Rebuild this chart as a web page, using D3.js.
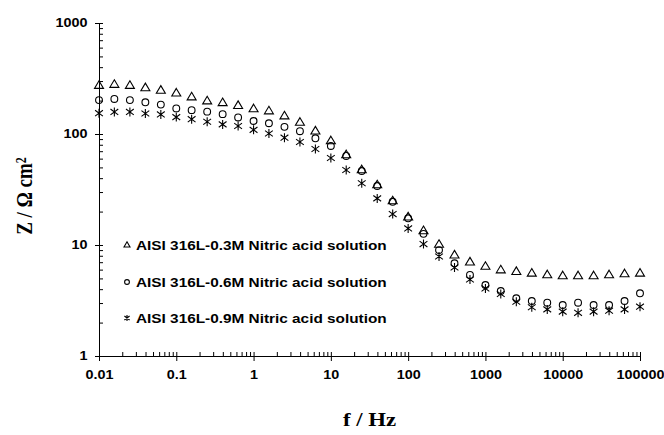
<!DOCTYPE html>
<html lang="en">
  <head>
  <title>Impedance modulus</title>
    <style>
      body { margin: 0; background: #fff; }
      .axis path, .axis line { stroke: #000; stroke-width: 1px; }
      .axis text { font-family: "Liberation Sans", Arial, sans-serif; font-weight: bold; font-size: 12px; fill: #000; }
      .legend text { font-family: "Liberation Sans", Arial, sans-serif; font-weight: bold; font-size: 12.8px; }
      .title { font-family: "Liberation Serif", "Times New Roman", serif; font-weight: bold; }
      .mark { fill: none; stroke: #000; stroke-width: 1.1px; }
    </style>
  </head>
  <body>
<div id="chart"></div>
    <script src="https://d3js.org/d3.v7.min.js"></script>
    <script>
    // frequencies (Hz), 5 points per decade
    var freq = [0.01, 0.0158, 0.0251, 0.0398, 0.0631, 0.1, 0.158, 0.251, 0.398, 0.631,
                1, 1.58, 2.51, 3.98, 6.31, 10, 15.8, 25.1, 39.8, 63.1,
                100, 158, 251, 398, 631, 1000, 1580, 2510, 3980, 6310,
                10000, 15800, 25100, 39800, 63100, 100000];

    var z03 = [273, 279, 273, 260, 247, 233, 215, 198, 191, 180,
               168, 161, 145, 127, 106, 86.5, 64.7, 47.4, 34.7, 24.9,
               17.8, 13.4, 10.1, 8.1, 7.0, 6.4, 5.95, 5.75, 5.56, 5.37,
               5.26, 5.26, 5.26, 5.37, 5.48, 5.56];

    var z06 = [202, 207, 202, 193, 184, 170, 164, 159, 151, 141,
               131, 125, 116, 106, 91.5, 78, 63.4, 46.4, 34, 24.5,
               17.4, 12.6, 9.0, 6.84, 5.37, 4.36, 3.85, 3.31, 3.13, 3.02,
               2.88, 3.02, 2.88, 2.88, 3.13, 3.67];

    var z09 = [154, 158, 158, 153, 150, 142, 136, 129, 122, 118,
               109, 101, 92.6, 84.7, 73.3, 60.8, 47.4, 36, 26.3, 19,
               14.1, 10.2, 7.88, 6.27, 4.89, 4.06, 3.62, 3.08, 2.75, 2.63,
               2.51, 2.45, 2.51, 2.56, 2.63, 2.78];

    var xTicks = [0.01, 0.1, 1, 10, 100, 1000, 10000, 100000];
    var xTickLabels = ["0.01", "0.1", "1", "10", "100", "1000", "10000", "100000"];
    var yTicks = [1, 10, 100, 1000];
    var yTickLabels = ["1", "10", "100", "1000"];

    var seriesNames = ["AISI 316L-0.3M Nitric acid solution",
                       "AISI 316L-0.6M Nitric acid solution",
                       "AISI 316L-0.9M Nitric acid solution"];

    var width = 664, height = 435, sx = 1.2;

    var svg = d3.select("#chart").append("svg")
        .attr("width", width)
        .attr("height", height);

    var x = d3.scaleLog().domain([0.01, 100000]).range([99, 640]);
    var y = d3.scaleLog().domain([1, 1000]).range([356, 23]);

    // minor ticks
    var xMinor = x.ticks().filter(function(d){ return xTicks.indexOf(d) < 0; });
    var yMinor = y.ticks().filter(function(d){ return yTicks.indexOf(d) < 0; });

    svg.append("g").attr("class", "axis")
        .attr("transform", "translate(0," + y(1) + ")")
        .call(d3.axisBottom(x).tickValues(xMinor).tickSize(-4).tickSizeOuter(0).tickFormat(""));

    var gx = svg.append("g").attr("class", "axis")
        .attr("transform", "translate(0," + y(1) + ")")
        .call(d3.axisBottom(x).tickValues(xTicks).tickSize(5).tickSizeOuter(0)
              .tickFormat(function(d, i){ return xTickLabels[i]; }));
    gx.selectAll(".tick line").attr("y1", -4);
    gx.selectAll(".tick text").attr("y", 0).attr("dy", "1.95em")
        .attr("transform", "scale(" + sx + ",1)");
    gx.select(".domain").remove();

    svg.append("g").attr("class", "axis")
        .attr("transform", "translate(" + x(0.01) + ",0)")
        .call(d3.axisLeft(y).tickValues(yMinor).tickSize(-4).tickSizeOuter(0).tickFormat(""));

    var gy = svg.append("g").attr("class", "axis")
        .attr("transform", "translate(" + x(0.01) + ",0)")
        .call(d3.axisLeft(y).tickValues(yTicks).tickSize(4).tickSizeOuter(0)
              .tickFormat(function(d, i){ return yTickLabels[i]; }));
    gy.selectAll(".tick line").attr("x2", 4).attr("x1", -4);
    gy.selectAll(".tick text").attr("x", -9.5).attr("transform", "scale(" + sx + ",1)");
    gy.selectAll(".tick").filter(function(d){ return d === 1; }).select("line").attr("x2", 0);

    // markers
    var tri = "M0,-4.8L4.5,2.8L-4.5,2.8Z";
    var star = "M0,-4.5V4.5M-3.9,-2.9L3.9,2.9M-3.9,2.9L3.9,-2.9";

    function drawSeries(vals, kind) {
      var g = svg.append("g");
      var sel = g.selectAll("path").data(vals).enter();
      if (kind === "circle") {
        sel.append("circle").attr("class", "mark")
          .attr("cx", function(d, i){ return x(freq[i]); })
          .attr("cy", function(d){ return y(d); })
          .attr("r", 3.4);
      } else {
        sel.append("path").attr("class", "mark")
          .attr("d", kind === "tri" ? tri : star)
          .attr("transform", function(d, i){ return "translate(" + x(freq[i]) + "," + y(d) + ")"; });
      }
    }
    drawSeries(z03, "tri");
    drawSeries(z06, "circle");
    drawSeries(z09, "star");

    // legend
    var legY = [245, 282, 318];
    var leg = svg.append("g").attr("class", "legend");
    leg.append("path").attr("class", "mark").attr("d", "M0,-3.2L3,2L-3,2Z")
        .attr("transform", "translate(127," + legY[0] + ")");
    leg.append("circle").attr("class", "mark").attr("cx", 127).attr("cy", legY[1]).attr("r", 2.4);
    leg.append("path").attr("class", "mark").attr("d", "M0,-3V3M-2.6,-2L2.6,2M-2.6,2L2.6,-2")
        .attr("transform", "translate(127," + legY[2] + ")");
    leg.selectAll("text").data(seriesNames).enter().append("text")
        .attr("transform", function(d, i){ return "translate(136," + (legY[i] + 4.5) + ") scale(" + sx + ",1)"; })
        .text(function(d){ return d; });

    // axis titles
    svg.append("text").attr("class", "title")
        .attr("transform", "translate(" + ((x(0.01) + x(100000)) / 2) + ",426) scale(" + sx + ",1)")
        .attr("text-anchor", "middle")
        .style("font-size", "19px")
        .text("f / Hz");

    var yt = svg.append("text").attr("class", "title")
        .attr("transform", "translate(32,196) rotate(-90) scale(1," + sx + ")")
        .attr("text-anchor", "middle")
        .style("font-size", "19px");
    yt.append("tspan").text("Z / Ω cm");
    yt.append("tspan").attr("dy", "-0.45em").style("font-size", "12px").text("2");
    </script>
  </body>
</html>
